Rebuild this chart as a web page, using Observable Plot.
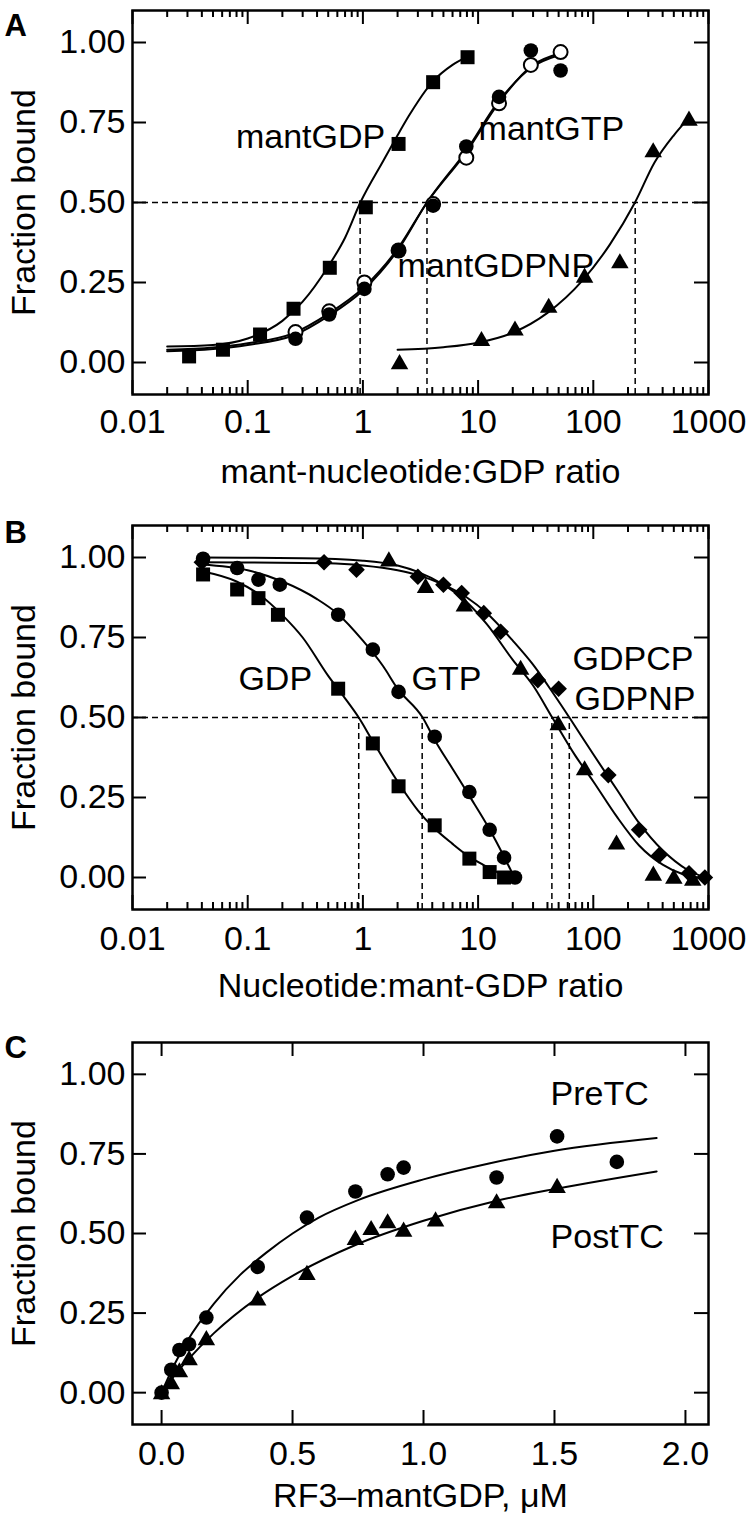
<!DOCTYPE html>
<html><head><meta charset="utf-8">
<script src="https://cdn.jsdelivr.net/npm/d3@7"></script>
<script src="https://cdn.jsdelivr.net/npm/@observablehq/plot@0.6"></script>
<style>body{margin:0;background:#fff;} #chart svg{display:block;}</style>
</head><body><div id="chart"></div>
<script>
// ---------- Panel A data ----------
const aGdpX = [0.031, 0.061, 0.128, 0.25, 0.516, 1.06, 2.04, 4.07, 8.1];
const aGdpY = [0.019, 0.04, 0.0875, 0.168, 0.296, 0.485, 0.683, 0.876, 0.954];
const aGtpX = [0.26, 0.51, 1.03, 2.04, 4.07, 7.9, 15.2, 28.7, 52];
const aGtpY = [0.074, 0.15, 0.23, 0.35, 0.49, 0.675, 0.83, 0.975, 0.9125];
const aGdpnpX = [0.26, 0.51, 1.03, 2.04, 4.07, 7.9, 15.2, 28.7, 52];
const aGdpnpY = [0.095, 0.16, 0.25, 0.35, 0.495, 0.64, 0.81, 0.93, 0.97];
const aTriX = [2.08, 10.7, 20.9, 41, 84, 170, 331, 677];
const aTriY = [-0.005, 0.067, 0.1, 0.171, 0.265, 0.31, 0.657, 0.756];
// fitted curves
const aGdpFitX = [0.02, 0.05, 0.1, 0.2, 0.3, 0.5, 0.7, 0.95, 1.5, 2, 2.5, 3, 4, 6, 8];
const aGdpFitY = [0.05, 0.055, 0.075, 0.13, 0.19, 0.30, 0.39, 0.5, 0.63, 0.71, 0.77, 0.815, 0.876, 0.93, 0.955];
const aGtpFitX = [0.02, 0.05, 0.1, 0.25, 0.5, 1, 2, 3.6, 8, 15, 30, 50];
const aGtpFitY = [0.035, 0.042, 0.055, 0.085, 0.145, 0.225, 0.35, 0.5, 0.665, 0.815, 0.925, 0.96];
const aGdpnpFitY = [0.04, 0.047, 0.06, 0.092, 0.152, 0.232, 0.355, 0.5, 0.66, 0.81, 0.93, 0.965];
const aTriFitX = [2, 5, 10, 20, 40, 80, 140, 230, 340, 500, 640];
const aTriFitY = [0.04, 0.048, 0.062, 0.093, 0.155, 0.255, 0.37, 0.5, 0.625, 0.71, 0.755];
const aHalfX = [0.946, 3.6, 231];
const aLabels = ["mantGDP", "mantGTP", "mantGDPNP"];
const aLabelX = [0.079, 10.1, 2.0];
const aLabelY = [0.669, 0.694, 0.266];

// ---------- Panel B data ----------
const bGdpX = [0.041, 0.081, 0.124, 0.183, 0.61, 1.22, 2.04, 4.2, 8.4, 12.6, 16.8];
const bGdpY = [0.947, 0.90, 0.873, 0.821, 0.59, 0.419, 0.285, 0.163, 0.059, 0.017, 0.0];
const bGtpX = [0.041, 0.081, 0.124, 0.19, 0.61, 1.22, 2.04, 4.2, 8.4, 12.6, 16.8, 20.9];
const bGtpY = [0.996, 0.967, 0.931, 0.915, 0.821, 0.712, 0.58, 0.44, 0.267, 0.149, 0.062, 0.0];
const bDiaX = [0.04, 0.46, 0.88, 3.0, 5.0, 7.2, 11.2, 15.7, 33, 50, 135, 250, 372, 677, 930];
const bDiaY = [0.985, 0.985, 0.962, 0.94, 0.915, 0.889, 0.826, 0.768, 0.617, 0.59, 0.32, 0.149, 0.069, 0.013, 0.0];
const bTriX = [1.68, 3.5, 7.6, 23.4, 49.6, 84, 159, 332, 500, 730];
const bTriY = [0.988, 0.905, 0.847, 0.649, 0.476, 0.335, 0.103, 0.006, -0.004, -0.01];
const bGdpFitX = [0.04, 0.08, 0.125, 0.2, 0.3, 0.5, 0.7, 0.92, 1.2, 2, 3, 4, 6, 8, 11, 17];
const bGdpFitY = [0.957, 0.925, 0.885, 0.82, 0.75, 0.63, 0.56, 0.5, 0.43, 0.30, 0.21, 0.16, 0.105, 0.07, 0.04, 0.005];
const bGtpFitX = [0.04, 0.1, 0.2, 0.4, 0.6, 1, 1.5, 2, 3.3, 4.2, 6, 8.4, 12.6, 16.8, 20];
const bGtpFitY = [0.978, 0.96, 0.925, 0.87, 0.825, 0.74, 0.66, 0.59, 0.5, 0.43, 0.34, 0.255, 0.15, 0.065, 0.01];
const bTriFitX = [0.04, 0.3, 1, 2, 3, 5, 8, 12, 20, 30, 44, 70, 100, 160, 250, 400, 600, 800];
const bTriFitY = [1.0, 0.998, 0.99, 0.975, 0.955, 0.915, 0.86, 0.79, 0.68, 0.6, 0.5, 0.38, 0.3, 0.19, 0.1, 0.04, 0.01, 0.0];
const bDiaFitX = [0.04, 0.5, 1, 2, 3, 5, 8, 12, 20, 30, 45, 62, 100, 160, 250, 400, 650, 930];
const bDiaFitY = [0.985, 0.982, 0.975, 0.96, 0.945, 0.915, 0.875, 0.825, 0.74, 0.665, 0.575, 0.5, 0.385, 0.275, 0.17, 0.085, 0.025, 0.0];
const bHalfX = [0.92, 3.27, 43.7, 61.9];
const bLabels = ["GDP", "GTP", "GDPCP", "GDPNP"];
const bLabelX = [0.083, 2.64, 66, 68.7];
const bLabelY = [0.586, 0.586, 0.649, 0.524];

// ---------- Panel C data ----------
const cPreX = [0, 0.037, 0.068, 0.105, 0.171, 0.367, 0.555, 0.74, 0.863, 0.924, 1.279, 1.51, 1.738];
const cPreY = [0.0, 0.072, 0.134, 0.152, 0.236, 0.395, 0.55, 0.632, 0.686, 0.707, 0.676, 0.805, 0.725];
const cPostX = [0, 0.037, 0.068, 0.105, 0.171, 0.367, 0.555, 0.74, 0.80, 0.863, 0.924, 1.046, 1.279, 1.51];
const cPostY = [-0.005, 0.027, 0.064, 0.102, 0.165, 0.29, 0.37, 0.48, 0.511, 0.532, 0.506, 0.538, 0.595, 0.643];
const cPreFitX = [0, 0.05, 0.1, 0.2, 0.3, 0.4, 0.5, 0.6, 0.75, 1.0, 1.25, 1.5, 1.89];
const cPreFitY = [0, 0.09, 0.165, 0.28, 0.37, 0.44, 0.5, 0.55, 0.605, 0.67, 0.72, 0.76, 0.80];
const cPostFitX = [0, 0.05, 0.1, 0.2, 0.37, 0.5, 0.74, 1.0, 1.28, 1.51, 1.89];
const cPostFitY = [0, 0.055, 0.103, 0.187, 0.3, 0.367, 0.464, 0.54, 0.603, 0.641, 0.695];
const cLabels = ["PreTC", "PostTC"];
const cLabelX = [1.485, 1.485];
const cLabelY = [0.905, 0.455];

// ---------- tick labels ----------
const logMajor = [0.01, 0.1, 1, 10, 100, 1000];
const logMinor = [-2, -1, 0, 1, 2].flatMap(k => [2,3,4,5,6,7,8,9].map(m => +(m * Math.pow(10, k)).toPrecision(3)));
const linMajorC = [0, 0.5, 1.0, 1.5, 2.0];
const yTicks = [0, 0.25, 0.5, 0.75, 1.0];
const yTitle = "Fraction bound";
const xTitles = ["mant-nucleotide:GDP ratio", "Nucleotide:mant-GDP ratio", "RF3\u2013mantGDP, \u03bcM"];
const panelNames = ["A", "B", "C"];

// ---------- helpers ----------
const FONT = "Liberation Sans, Arial, Helvetica, sans-serif";
const FS = 34;
const W = 750, ML = 132, MR = 42;
const FW = W - ML - MR;
const rows = (xs, ys) => xs.map((x, i) => ({x, y: ys[i]}));
const labelRows = (t, xs, ys) => t.map((s, i) => ({text: s, x: xs[i], y: ys[i]}));
const yDomain = [-0.1, 1.1];

function frameTicks(xMaj, xMin, FH) {
  const m = [];
  const tk = {stroke: "black", strokeWidth: 2};
  m.push(Plot.tickX(xMaj, {x: d => d, insetTop: FH - 14, ...tk}));
  m.push(Plot.tickX(xMaj, {x: d => d, insetBottom: FH - 14, ...tk}));
  if (xMin) {
    m.push(Plot.tickX(xMin, {x: d => d, insetTop: FH - 7, ...tk}));
    m.push(Plot.tickX(xMin, {x: d => d, insetBottom: FH - 7, ...tk}));
  }
  m.push(Plot.tickY(yTicks, {y: d => d, insetRight: FW - 14, ...tk}));
  m.push(Plot.tickY(yTicks, {y: d => d, insetLeft: FW - 14, ...tk}));
  return m;
}

function textMarks(name, xTitle, fmtX, xMaj, labels, letterDy, titleDy, xPad) {
  return [
    Plot.axisX(xMaj, {anchor: "bottom", tickSize: 0, tickPadding: xPad, tickFormat: fmtX, fontSize: FS, label: null}),
    Plot.axisY(yTicks, {anchor: "left", tickSize: 0, tickPadding: 7, tickFormat: d3.format(".2f"), fontSize: FS, label: null}),
    Plot.text([xTitle], {frameAnchor: "bottom", dy: titleDy, lineAnchor: "bottom", textAnchor: "middle", fontSize: FS}),
    Plot.text([yTitle], {frameAnchor: "left", rotate: -90, dx: -98, lineAnchor: "bottom", textAnchor: "middle", fontSize: FS}),
    Plot.text([name], {frameAnchor: "top-left", dx: -128, dy: letterDy, lineAnchor: "bottom", textAnchor: "start", fontSize: 31, fontWeight: "bold"}),
    Plot.text(labels, {x: "x", y: "y", text: "text", textAnchor: "start", lineAnchor: "bottom", fontSize: FS})
  ];
}

const lineStyle = {x: "x", y: "y", stroke: "black", strokeWidth: 2, curve: "monotone-x"};
const dash = {stroke: "black", strokeWidth: 1.5, strokeDasharray: "6,4"};
const dot = (data, symbol, r, extra = {}) => Plot.dot(data, {x: "x", y: "y", symbol, r, fill: "black", ...extra});

// ---------- Panel A ----------
const HA = 505, MTA = 10, MBA = 111;
const plotA = Plot.plot({
  width: W, height: HA, marginLeft: ML, marginRight: MR, marginTop: MTA, marginBottom: MBA,
  style: {fontFamily: FONT, fontSize: FS + "px", color: "black", background: "white"},
  x: {type: "log", domain: [0.01, 1000]},
  y: {domain: yDomain},
  marks: [
    Plot.ruleY([0.5], dash),
    Plot.ruleX(aHalfX, {x: d => d, y1: yDomain[0], y2: 0.5, ...dash}),
    Plot.line(rows(aGdpFitX, aGdpFitY), lineStyle),
    Plot.line(rows(aGtpFitX, aGtpFitY), lineStyle),
    Plot.line(rows(aGtpFitX, aGdpnpFitY), lineStyle),
    Plot.line(rows(aTriFitX, aTriFitY), lineStyle),
    dot(rows(aGdpX, aGdpY), "square", 7.9),
    dot(rows(aGdpnpX, aGdpnpY), "circle", 7, {fill: "white", stroke: "black", strokeWidth: 2}),
    dot(rows(aGtpX, aGtpY), "circle", 7.3),
    dot(rows(aTriX, aTriY), "triangle", 6.5),
    Plot.frame({stroke: "black", strokeWidth: 2.5}),
    ...frameTicks(logMajor, logMinor, HA - MTA - MBA),
    ...textMarks(panelNames[0], xTitles[0], d => String(d), logMajor, labelRows(aLabels, aLabelX, aLabelY), 25, 88, 14)
  ]
});

// ---------- Panel B ----------
const HB = 515, MTB = 20, MBB = 111;
const plotB = Plot.plot({
  width: W, height: HB, marginLeft: ML, marginRight: MR, marginTop: MTB, marginBottom: MBB,
  style: {fontFamily: FONT, fontSize: FS + "px", color: "black", background: "white"},
  x: {type: "log", domain: [0.01, 1000]},
  y: {domain: yDomain},
  marks: [
    Plot.ruleY([0.5], dash),
    Plot.ruleX(bHalfX, {x: d => d, y1: yDomain[0], y2: 0.5, ...dash}),
    Plot.line(rows(bGdpFitX, bGdpFitY), lineStyle),
    Plot.line(rows(bGtpFitX, bGtpFitY), lineStyle),
    Plot.line(rows(bTriFitX, bTriFitY), lineStyle),
    Plot.line(rows(bDiaFitX, bDiaFitY), lineStyle),
    dot(rows(bDiaX, bDiaY), "diamond2", 7.5),
    dot(rows(bTriX, bTriY), "triangle", 6.5),
    dot(rows(bGtpX, bGtpY), "circle", 7.3),
    dot(rows(bGdpX, bGdpY), "square", 7.9),
    Plot.frame({stroke: "black", strokeWidth: 2.5}),
    ...frameTicks(logMajor, logMinor, HB - MTB - MBB),
    ...textMarks(panelNames[1], xTitles[1], d => String(d), logMajor, labelRows(bLabels, bLabelX, bLabelY), 17, 87, 16)
  ]
});

// ---------- Panel C ----------
const HC = 498, MTC = 22, MBC = 94;
const plotC = Plot.plot({
  width: W, height: HC, marginLeft: ML, marginRight: MR, marginTop: MTC, marginBottom: MBC,
  style: {fontFamily: FONT, fontSize: FS + "px", color: "black", background: "white"},
  x: {domain: [-0.111, 2.088]},
  y: {domain: yDomain},
  marks: [
    Plot.line(rows(cPreFitX, cPreFitY), lineStyle),
    Plot.line(rows(cPostFitX, cPostFitY), lineStyle),
    dot(rows(cPostX, cPostY), "triangle", 6.5),
    dot(rows(cPreX, cPreY), "circle", 7.3),
    Plot.frame({stroke: "black", strokeWidth: 2.5}),
    ...frameTicks(linMajorC, null, HC - MTC - MBC),
    ...textMarks(panelNames[2], xTitles[2], d3.format(".1f"), linMajorC, labelRows(cLabels, cLabelX, cLabelY), 15, 82, 16)
  ]
});

const root = document.getElementById("chart");
root.append(plotA, plotB, plotC);
</script>
</body></html>
